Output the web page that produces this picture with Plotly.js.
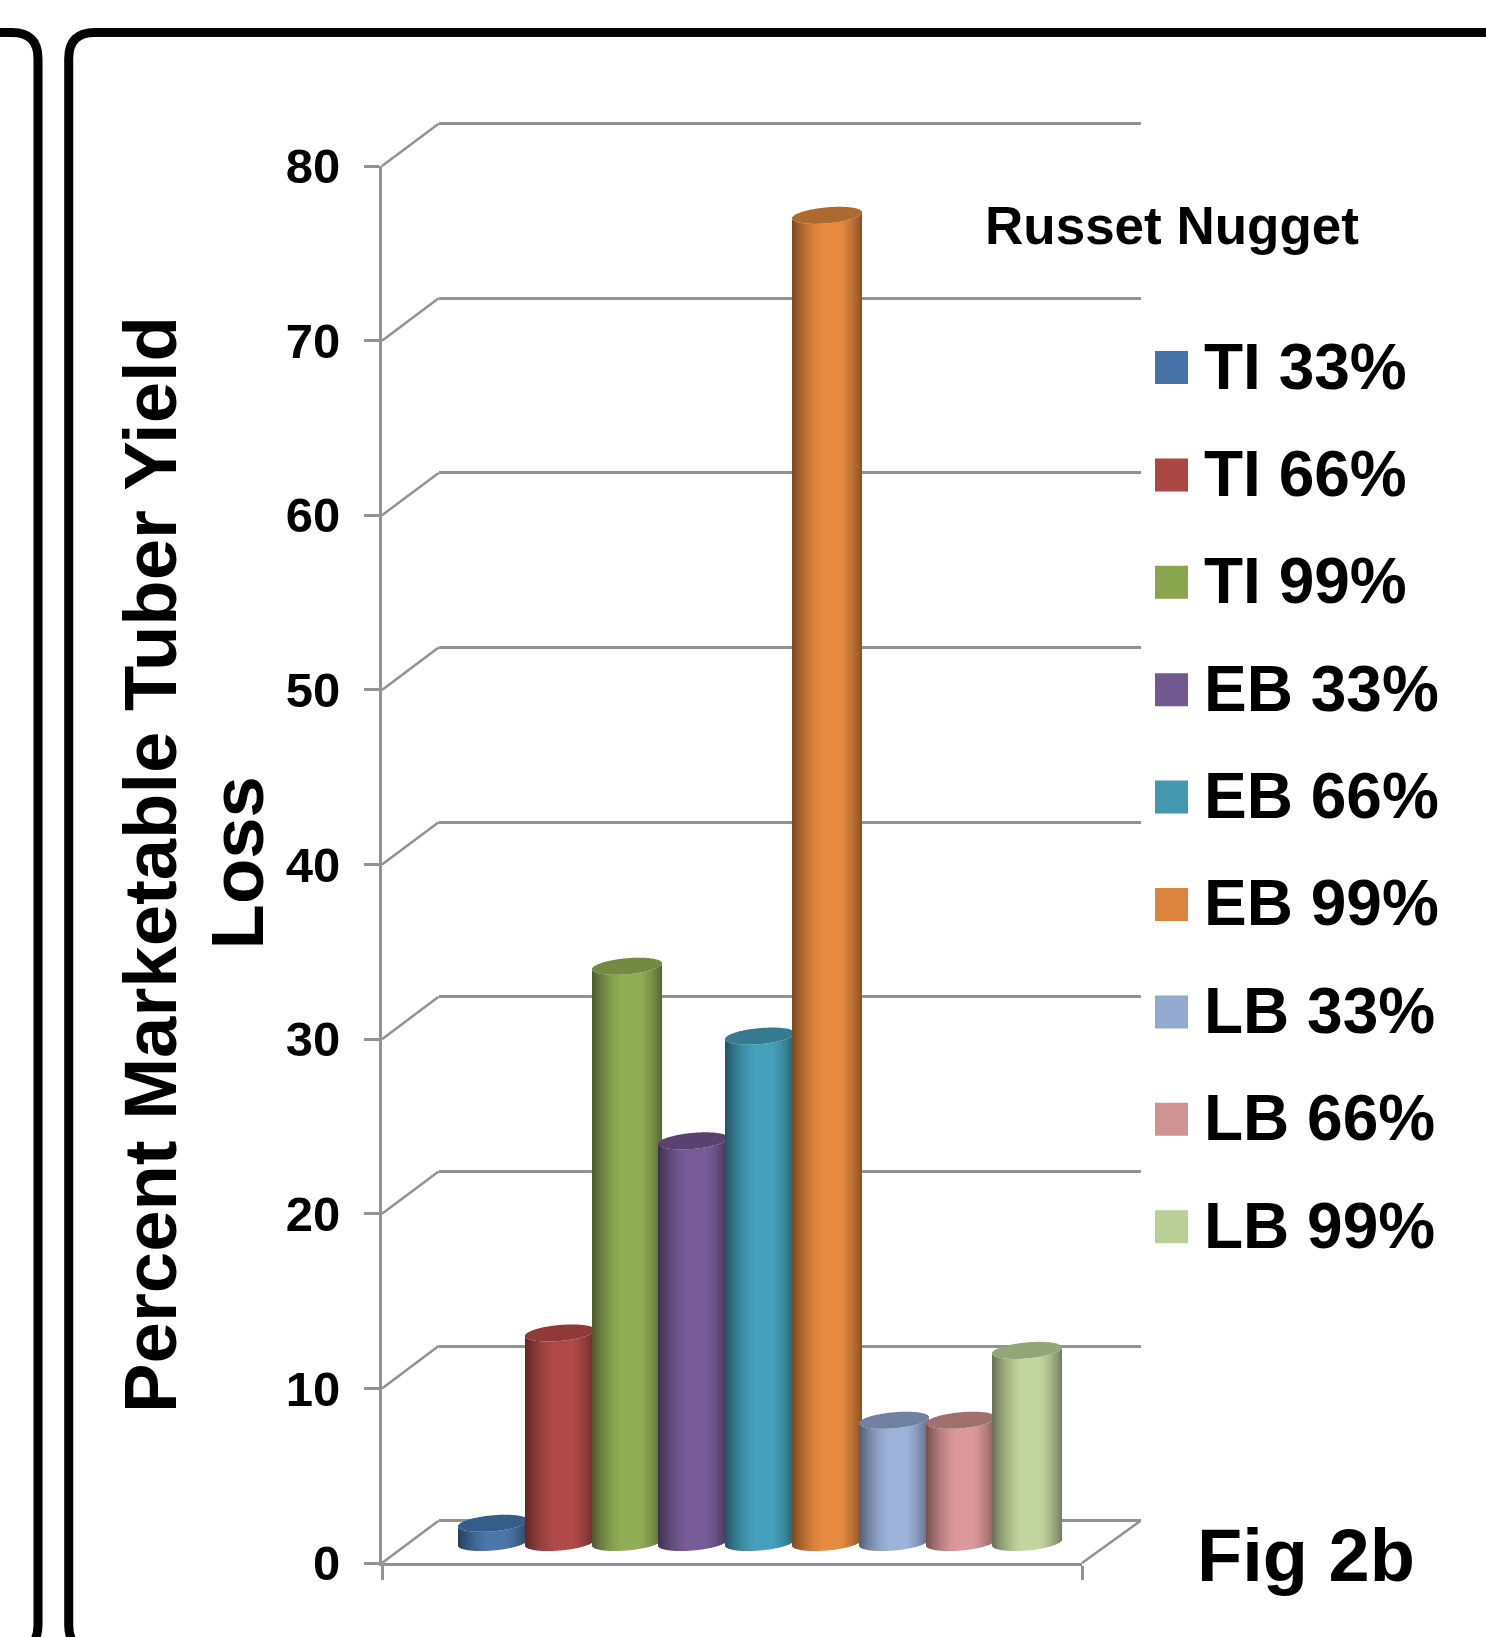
<!DOCTYPE html>
<html>
<head>
<meta charset="utf-8">
<script src="https://cdn.plot.ly/plotly-3.0.1.min.js"></script>
<style>html,body{margin:0;padding:0;background:#fff}#chart{width:1486px;height:1637px}</style>
</head>
<body>
<div id="chart"></div>
<script>
// Percent marketable tuber yield loss, Russet Nugget
const seriesNames  = ['TI 33%','TI 66%','TI 99%','EB 33%','EB 66%','EB 99%','LB 33%','LB 66%','LB 99%'];
const seriesValues = [1.1, 12, 33, 23, 29, 76, 7, 7, 11];
const bodyColors   = ['#4a76ab','#b04a48','#92ae55','#775c98','#45a0bb','#e78b40','#9db2da','#dc989a','#c4d69f'];
const capColors    = ['#365c88','#8f3a38','#748a42','#5a4270','#367a90','#ad6a2f','#7081a2','#a0706f','#93a678'];
const keyColors    = ['#4672a7','#aa4644','#89a54e','#71588f','#4198af','#db843d','#93a9cf','#d19392','#b9cd96'];
const tickValues   = [0, 10, 20, 30, 40, 50, 60, 70, 80];

const W = 1486, H = 1637;
const GREY = '#929292';
const FONT = 'Liberation Sans, Arial, sans-serif';

// Pseudo-3D frame, in page pixels
const front = {left: 382, right: 1082, zero: 1563, top: 166};
const back  = {left: 438.6, right: 1140.7, zero: 1520.7, top: 123.3};
const barPlaneZero = 1542.5;
const pxPerUnit = (front.zero - front.top) / 80;
const depthUnits = (front.zero - back.zero) / pxPerUnit;

// Cylinder geometry
const firstCentre = 493, pitch = 66.8, radius = 35;
const capHalfHeight = 8 / pxPerUnit, capTilt = 3 / pxPerUnit;

const xFrac = px => px / W;
const yFrac = px => 1 - px / H;

function shade(hex, f) {
  const n = parseInt(hex.slice(1), 16);
  const c = [n >> 16, (n >> 8) & 255, n & 255].map(v => Math.round(v * f));
  return `rgb(${c[0]},${c[1]},${c[2]})`;
}
// Lighting across a cylinder, t runs from -1 (left edge) to 1 (right edge)
function lighting(t) {
  if (t < -0.1) return 1 - 0.48 * Math.pow((-0.1 - t) / 0.9, 1.6);
  if (t > 0.3)  return 1 - 0.42 * Math.pow((t - 0.3) / 0.7, 1.6);
  return 1;
}

const traces = [
  {type: 'scatter', x: [null], y: [null], xaxis: 'x', yaxis: 'y', showlegend: false, hoverinfo: 'skip'}
];

// Each cylinder is a run of one-pixel bars: a shaded body and a flat elliptical cap
seriesValues.forEach((value, i) => {
  const cx = Math.round(firstCentre + pitch * i);
  const xs = [], bodyBase = [], bodyTop = [], bodyCol = [], capBase = [], capH = [], capCol = [];
  for (let p = -radius; p < radius; p++) {
    const t = (p + 0.5) / radius;
    const half = capHalfHeight * Math.sqrt(1 - t * t);
    const lower = capTilt * t - half;
    xs.push(cx + p + 0.5);
    bodyBase.push(lower);
    bodyTop.push(value);
    bodyCol.push(shade(bodyColors[i], lighting(t)));
    capBase.push(value + lower);
    capH.push(2 * half);
    capCol.push(capColors[i]);
  }
  const common = {type: 'bar', x: xs, width: 1, xaxis: 'x2', yaxis: 'y2', showlegend: false, hoverinfo: 'skip'};
  traces.push(Object.assign({}, common, {name: seriesNames[i], y: bodyTop, base: bodyBase,
    marker: {color: bodyCol, line: {width: 0}}}));
  traces.push(Object.assign({}, common, {name: seriesNames[i] + ' cap', y: capH, base: capBase,
    marker: {color: capCol, line: {width: 0}}}));
});

traces.push({type: 'scatter', x: [null], y: [null], xaxis: 'x3', yaxis: 'y3', showlegend: false, hoverinfo: 'skip'});

// Side-wall diagonals and the right edge of the floor, on the back-wall scale
const shapes = tickValues.map(v => ({
  type: 'line', xref: 'x2', yref: 'y', layer: 'below',
  x0: front.left, y0: v - depthUnits, x1: back.left, y1: v,
  line: {color: GREY, width: 2.5}
}));
shapes.push({type: 'line', xref: 'x2', yref: 'y', layer: 'below',
  x0: front.right, y0: -depthUnits, x1: back.right, y1: 0, line: {color: GREY, width: 2.5}});

// Rounded panel outlines running off the page
function panelPath(points) {
  return points.map(p => p[0] + ' ' + p.slice(1).map((v, k) => k % 2 ? yFrac(v) : xFrac(v)).join(' ')).join(' ');
}
const panelTop = 32.5, r = 26, panelBottom = 1651;
shapes.push({type: 'path', xref: 'paper', yref: 'paper', line: {color: '#000', width: 9},
  path: panelPath([['M', -10, panelTop], ['L', 38 - r, panelTop], ['Q', 38, panelTop, 38, panelTop + r],
    ['L', 38, panelBottom - r], ['Q', 38, panelBottom, 38 - r, panelBottom]])});
shapes.push({type: 'path', xref: 'paper', yref: 'paper', line: {color: '#000', width: 9},
  path: panelPath([['M', 68.7 + r, panelBottom], ['Q', 68.7, panelBottom, 68.7, panelBottom - r],
    ['L', 68.7, panelTop + r], ['Q', 68.7, panelTop, 68.7 + r, panelTop], ['L', W + 10, panelTop]])});

// Key: swatch and label for every series
const annotations = [];
const keyTop = 367.5, keyStep = 107.4;
seriesNames.forEach((name, i) => {
  const cy = keyTop + keyStep * i;
  shapes.push({type: 'rect', xref: 'paper', yref: 'paper',
    x0: xFrac(1155), x1: xFrac(1188), y0: yFrac(cy - 16.5), y1: yFrac(cy + 16.5),
    fillcolor: keyColors[i], line: {width: 0}});
  annotations.push({xref: 'paper', yref: 'paper', x: xFrac(1202), y: yFrac(cy - 1), xanchor: 'left', yanchor: 'middle',
    showarrow: false, text: name, font: {family: FONT, size: 64, weight: 700, color: '#000'}});
});
annotations.push({xref: 'paper', yref: 'paper', x: xFrac(1172), y: yFrac(225), xanchor: 'center', yanchor: 'middle',
  showarrow: false, text: 'Russet Nugget', font: {family: FONT, size: 53, weight: 700, color: '#000'}});
annotations.push({xref: 'paper', yref: 'paper', x: xFrac(1306), y: yFrac(1555), xanchor: 'center', yanchor: 'middle',
  showarrow: false, text: 'Fig 2b', font: {family: FONT, size: 74, weight: 700, color: '#000'}});
annotations.push({xref: 'paper', yref: 'paper', x: xFrac(236.5), y: yFrac(863), xanchor: 'center', yanchor: 'middle',
  textangle: -90, showarrow: false, text: 'Loss', font: {family: FONT, size: 74.3, weight: 700, color: '#000'}});

const layout = {
  width: W, height: H,
  margin: {l: 0, r: 0, t: 0, b: 0},
  paper_bgcolor: '#fff', plot_bgcolor: 'rgba(0,0,0,0)',
  barmode: 'overlay', showlegend: false, hovermode: false,
  font: {family: FONT, color: '#000'},
  // Back wall with its gridlines
  xaxis: {domain: [xFrac(back.left), xFrac(back.right)], range: [0, 1], visible: false, fixedrange: true},
  yaxis: {domain: [0, 1], range: [(back.zero - H) / pxPerUnit, back.zero / pxPerUnit],
    tickmode: 'array', tickvals: tickValues, showticklabels: false, ticks: '', showline: false, zeroline: false,
    showgrid: true, gridcolor: GREY, gridwidth: 3, fixedrange: true},
  // Plane holding the cylinders, one x unit to the page pixel
  xaxis2: {domain: [0, 1], range: [0, W], visible: false, fixedrange: true, anchor: 'y2'},
  yaxis2: {domain: [0, 1], range: [(barPlaneZero - H) / pxPerUnit, barPlaneZero / pxPerUnit],
    visible: false, fixedrange: true, anchor: 'x2'},
  // Front axes with ticks and labels
  xaxis3: {domain: [xFrac(front.left), xFrac(front.right)], range: [0, 1], anchor: 'y3',
    tickmode: 'array', tickvals: [0, 1], ticktext: ['', ''], ticks: 'outside', ticklen: 14, tickwidth: 3, tickcolor: GREY,
    showline: true, linecolor: GREY, linewidth: 3, showgrid: false, zeroline: false, fixedrange: true},
  yaxis3: {domain: [yFrac(front.zero), yFrac(front.top)], range: [0, 80], anchor: 'x3',
    tickmode: 'array', tickvals: tickValues, ticks: 'outside', ticklen: 15, tickwidth: 3, tickcolor: GREY,
    ticklabelstandoff: 14,
    tickfont: {family: FONT, size: 49, weight: 700, color: '#000'},
    showline: true, linecolor: GREY, linewidth: 3, showgrid: false, zeroline: false, fixedrange: true},
  shapes, annotations
};
layout.yaxis3.title = {text: 'Percent Marketable Tuber Yield', standoff: 85,
  font: {family: FONT, size: 74.3, weight: 700, color: '#000'}};

Plotly.newPlot('chart', traces, layout, {displayModeBar: false, staticPlot: true});
</script>
</body>
</html>
